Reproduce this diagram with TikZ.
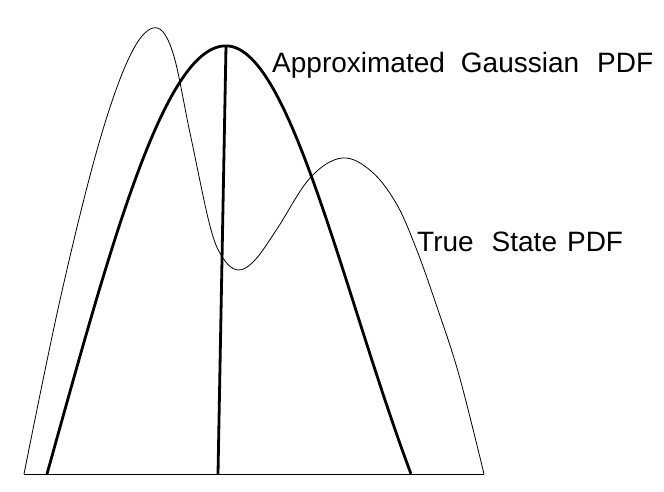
\documentclass[tikz,border=0pt]{standalone}
\usepackage{fontspec}
\setmainfont{Liberation Sans}
\begin{document}
\begin{tikzpicture}[x=1pt,y=-1pt,
  thinline/.style={line width=0.8pt,line join=round},
  thickline/.style={line width=2.8pt,line join=round},
  lab/.style={anchor=base west,inner sep=0pt,font=\fontsize{28}{32}\selectfont}]
\useasboundingbox (0,0) rectangle (664,492);
\fill[white] (0,0) rectangle (664,492);
\coordinate (bl) at (24,474);
\coordinate (br) at (484,474);
\coordinate (top) at (226,46);
\coordinate (bot) at (218,474);
% baseline
\draw[thinline] (bl) -- (br);
% true state pdf
\draw[thinline] plot[smooth,tension=0.6] coordinates {
(24,474) (60,300) (97,150) (128,60) (153,28) (172,50) (190,133) (210,226)
(223,258) (238,270) (255,260) (277,229) (310,178) (342,158) (371,171)
(396,203) (416,248) (437,307) (459,375) (484,474)};
% approximated gaussian
\draw[thickline] plot[domain=1.79:0,samples=60]
  ({226-100*\x},{474-428*(exp(-\x*\x/5.78)-0.5745)/(1-0.5745)})
  -- plot[domain=0:1.85,samples=60]
  ({226+100*\x},{474-428*(exp(-\x*\x/3.38)-0.3633)/(1-0.3633)});
% mean line
\draw[thickline] (top) -- (bot);
% labels
\node[lab] (gl) at (272,73) {Approximated\hspace{16pt}Gaussian\hspace{18pt}PDF};
\node[lab] (tl) at (417,251) {True\hspace{18pt}State\hspace{10pt}PDF};
\end{tikzpicture}
\end{document}
